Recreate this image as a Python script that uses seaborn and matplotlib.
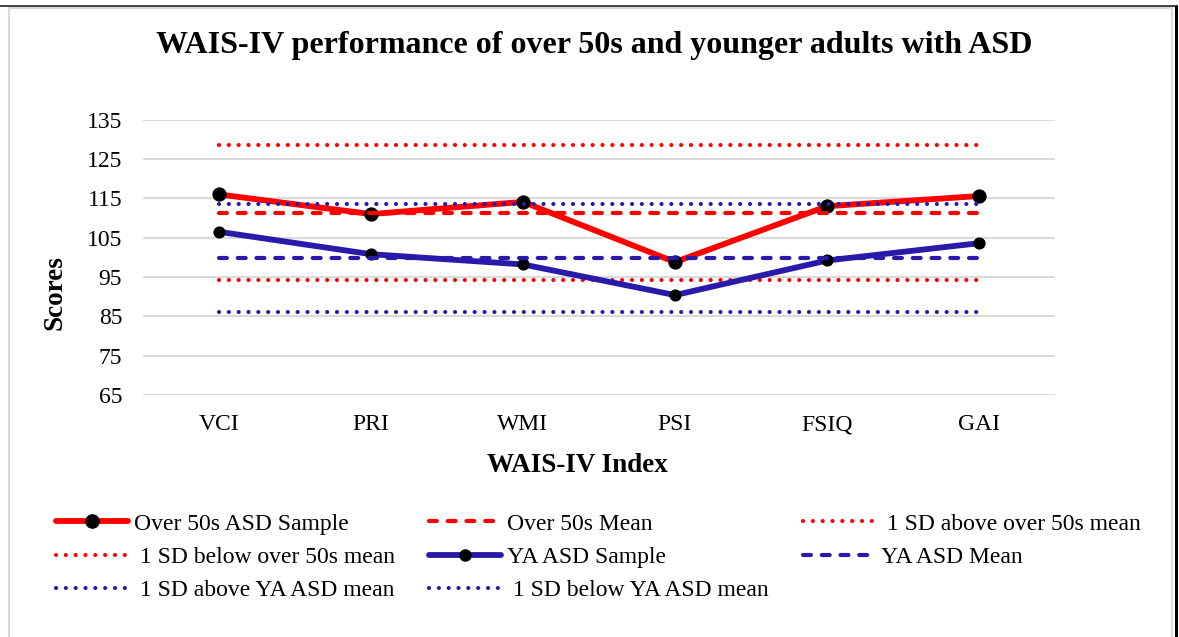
import matplotlib
matplotlib.use("Agg")
import matplotlib.pyplot as plt
from matplotlib.lines import Line2D
from matplotlib.patches import Rectangle
import seaborn as sns

# WAIS-IV index scores
indices = ["VCI", "PRI", "WMI", "PSI", "FSIQ", "GAI"]
over50_sample = [116.0, 111.0, 114.1, 98.8, 113.0, 115.6]
ya_sample = [106.5, 100.8, 98.2, 90.4, 99.2, 103.6]

# reference levels (constant across indices)
over50_mean = 111.4
over50_sd_above = 128.6
over50_sd_below = 94.2
ya_mean = 99.8
ya_sd_above = 113.5
ya_sd_below = 86.1

RED = "#FF0000"
BLUE = "#2A1AAA"
W, H = 1179, 637

sns.set_theme(style="white")
plt.rcParams["font.family"] = ["Liberation Serif", "DejaVu Serif"]
plt.rcParams["text.color"] = "black"

fig = plt.figure(figsize=(W / 100, H / 100), dpi=100)
ax = fig.add_axes([143 / W, 1 - 395 / H, (1055 - 143) / W, (395 - 119.7) / H])

dot = (0, (0.01, 2.35))
dash = (0, (1.9, 2.6))

# series in the chart's own order
series = [
    ("Over 50s ASD Sample", over50_sample, RED, "-", 4.2, 9.5),
    ("Over 50s Mean", [over50_mean] * len(indices), RED, dash, 3.0, 0),
    (" 1 SD above over 50s mean", [over50_sd_above] * len(indices), RED, dot, 3.0, 0),
    (" 1 SD below over 50s mean", [over50_sd_below] * len(indices), RED, dot, 3.0, 0),
    ("YA ASD Sample", ya_sample, BLUE, "-", 4.2, 8.0),
    ("YA ASD Mean", [ya_mean] * len(indices), BLUE, dash, 3.0, 0),
    (" 1 SD above YA ASD mean", [ya_sd_above] * len(indices), BLUE, dot, 3.0, 0),
    (" 1 SD below YA ASD mean", [ya_sd_below] * len(indices), BLUE, dot, 3.0, 0),
]

handles = []
for label, vals, col, ls, lw, ms in series:
    sns.lineplot(x=indices, y=vals, ax=ax, sort=False, color=col, linewidth=lw,
                 marker="o" if ms else None, markersize=ms, markerfacecolor="black",
                 markeredgecolor="black", legend=False)
    ln = ax.lines[-1]
    ln.set_linestyle(ls)
    ln.set_dash_capstyle("round")
    ln.set_solid_capstyle("round")
    ln.set_solid_joinstyle("round")
    handles.append(Line2D([], [], color=col, linestyle=ls, linewidth=lw,
                          marker="o" if ms else None, markersize=ms,
                          markerfacecolor="black", markeredgecolor="black",
                          dash_capstyle="round", label=label))

ax.set_xlim(-0.5, len(indices) - 0.5)
ax.set_ylim(65, 135)
ax.set_yticks(range(65, 136, 10))
ax.grid(axis="y", color="#D9D9D9", linewidth=1.4)
ax.set_axisbelow(True)
for s in ax.spines.values():
    s.set_visible(False)
ax.tick_params(axis="both", length=0, labelsize=17, colors="black")
ax.tick_params(axis="y", pad=15)
ax.tick_params(axis="x", pad=14)
ax.set_xlabel("")
ax.set_ylabel("")

fig.text(594 / W, 1 - 45 / H, "WAIS-IV performance of over 50s and younger adults with ASD",
         ha="center", va="center", fontsize=23, fontweight="bold")
fig.text(577 / W, 1 - 465 / H, "WAIS-IV Index", ha="center", va="center",
         fontsize=19.5, fontweight="bold")
fig.text(55 / W, 1 - 293 / H, "Scores", ha="center", va="center", rotation=90,
         fontsize=19.5, fontweight="bold")

# matplotlib fills legend columns first, Excel fills rows first
order = [0, 3, 6, 1, 4, 7, 2, 5]
fig.legend([handles[i] for i in order], [handles[i].get_label() for i in order],
           loc="upper left", bbox_to_anchor=(56 / W, 1 - 513 / H), ncol=3,
           frameon=False, fontsize=17, handlelength=3.05, handletextpad=0.25,
           columnspacing=1.45, labelspacing=0.5, borderpad=0, borderaxespad=0)

# chart-area frame
fig.patches.append(Rectangle((9 / W, -0.05), (1172 - 9) / W, 1.05 - 8 / H,
                             transform=fig.transFigure, fill=False,
                             edgecolor="#D9D9D9", linewidth=1.5))
fig.lines.append(Line2D([0, 1175 / W], [1 - 6 / H, 1 - 6 / H], transform=fig.transFigure,
                        color="#222222", linewidth=1.2))
fig.lines.append(Line2D([1175.5 / W, 1175.5 / W], [0, 1 - 6 / H], transform=fig.transFigure,
                        color="black", linewidth=2.2))

fig.savefig("out.png", dpi=100)
